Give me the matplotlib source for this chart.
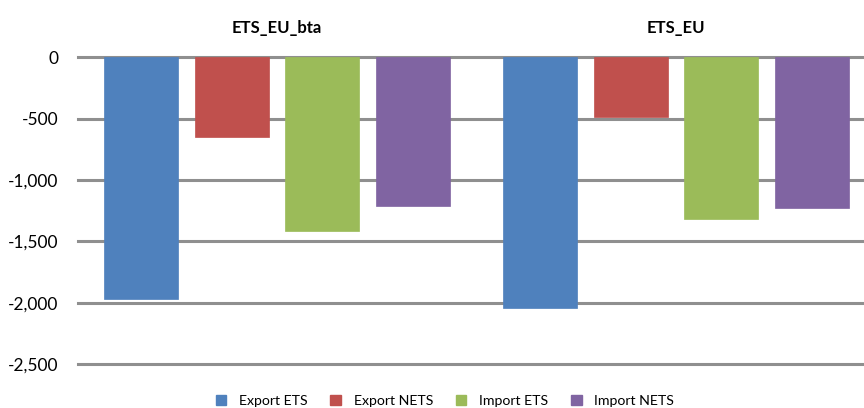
import matplotlib
matplotlib.use("Agg")
import matplotlib.pyplot as plt
import matplotlib.transforms as mtransforms
from matplotlib.ticker import FuncFormatter, MultipleLocator
from matplotlib.patches import Patch
import numpy as np

plt.rcParams['font.family'] = ['Lato', 'DejaVu Sans']

groups = ["ETS_EU_bta", "ETS_EU"]
series = ["Export ETS", "Export NETS", "Import ETS", "Import NETS"]
values = {
    "Export ETS": [-1968, -2046],
    "Export NETS": [-647, -484],
    "Import ETS": [-1413, -1321],
    "Import NETS": [-1215, -1226],
}
colors = ["#4F81BD", "#C0504D", "#9BBB59", "#8064A2"]

W, H = 864, 408
fig = plt.figure(figsize=(W / 100, H / 100), dpi=100)
left_px, right_px = 77.5, 875.5
top_px, bot_px = 57.3, 364.0
ax = fig.add_axes([left_px / W, (H - bot_px) / H,
                   (right_px - left_px) / W, (bot_px - top_px) / H])

x = np.arange(len(groups))
step = 0.227
width = 0.1855
offsets = (np.arange(len(series)) - 1.5) * step
for i, s in enumerate(series):
    ax.bar(x + offsets[i], values[s], width=width, color=colors[i],
           edgecolor=colors[i], linewidth=0.5, zorder=3)

ax.set_xlim(-0.5, 1.5)
ax.set_ylim(-2500, 0)
ax.yaxis.set_major_locator(MultipleLocator(500))
ax.yaxis.set_major_formatter(FuncFormatter(lambda v, p: "{:,.0f}".format(v).replace("\u2212", "-")))
ax.grid(axis='y', color='#8f8f8f', linewidth=2.2, zorder=0, clip_on=False)
ax.set_axisbelow(True)
for sp in ax.spines.values():
    sp.set_visible(False)
ax.tick_params(axis='y', length=0, pad=14, labelsize=12.5)
ax.tick_params(axis='x', length=0, labelbottom=False)
for lbl in ax.get_yticklabels():
    lbl.set_clip_on(False)

# group labels at top
trans = mtransforms.blended_transform_factory(ax.transData, ax.transAxes)
ty = 1 + (top_px - 28) / (bot_px - top_px)
for xi, g in zip(x, groups):
    ax.text(xi, ty, g, transform=trans, ha='center', va='center',
            fontsize=12, fontweight='bold', color='black')

handles = [Patch(facecolor=c, edgecolor=c) for c in colors]
fig.legend(handles, series, loc='center', bbox_to_anchor=(0.515, 7 / H),
           ncol=4, frameon=False, fontsize=10.2, handlelength=0.75,
           handleheight=0.75, handletextpad=0.9, columnspacing=1.6,
           borderaxespad=0, borderpad=0)

fig.savefig("out.png", dpi=100)
